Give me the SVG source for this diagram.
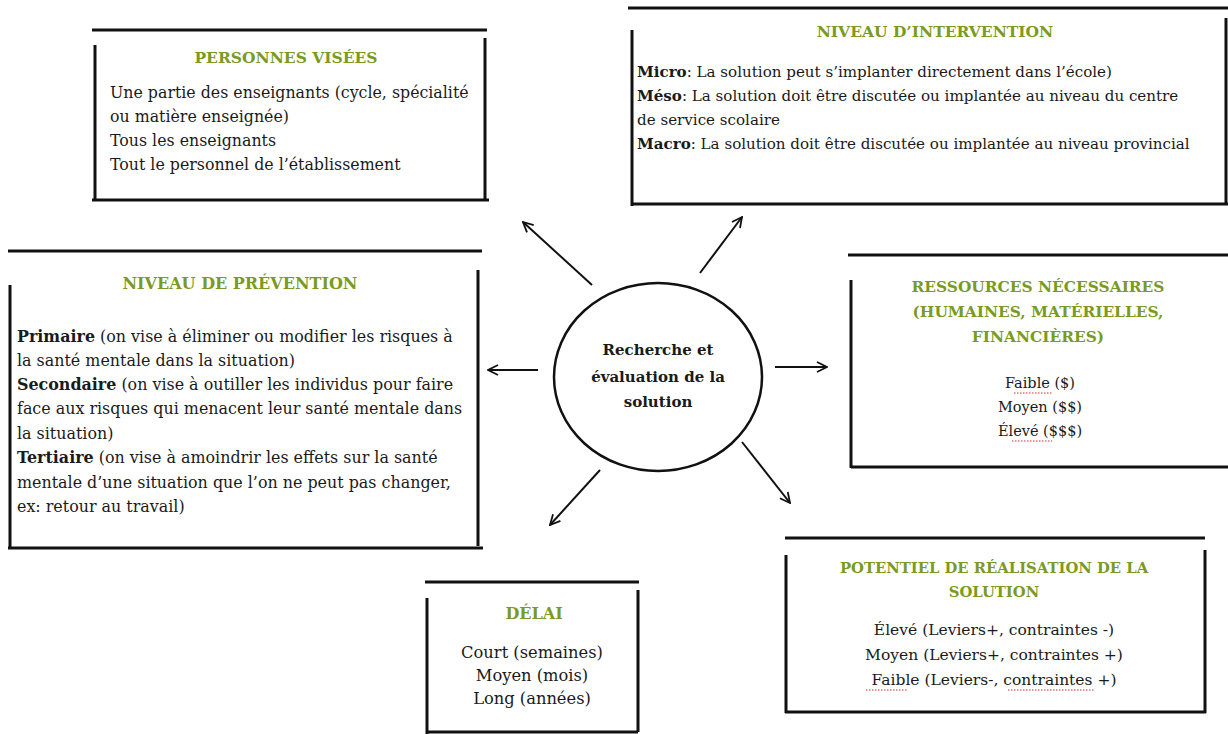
<svg xmlns="http://www.w3.org/2000/svg" width="1228" height="734" viewBox="0 0 1228 734">
<style>
.bl{stroke:#111;stroke-width:3;fill:none;stroke-linecap:butt}
.t{font-family:"DejaVu Serif","Liberation Serif",serif;fill:#1a1a1a}
.h{font-family:"DejaVu Serif","Liberation Serif",serif;fill:#7a9a22;font-weight:bold;text-anchor:middle}
.c{text-anchor:middle}
.b{font-weight:bold}
.arr{stroke:#111;stroke-width:2;fill:none}
.sq{stroke:#d03030;stroke-width:1.2;fill:none;stroke-dasharray:1.5 1.5}
</style>
<defs>
<marker id="ah" viewBox="0 0 12 12" refX="11" refY="6" markerWidth="12" markerHeight="12" markerUnits="userSpaceOnUse" orient="auto">
<path d="M1,1 L11,6 L1,11" stroke="#111" stroke-width="1.8" fill="none"/>
</marker>
</defs>
<rect width="1228" height="734" fill="#fff"/>

<g id="personnes">
<path class="bl" d="M92,30 H487 M95,45 V201 M485,38 V201 M92,200 H489"/>
<text class="h" x="286" y="63" font-size="15.5">PERSONNES VISÉES</text>
<g class="t" font-size="15.8">
<text x="110" y="98">Une partie des enseignants (cycle, spécialité</text>
<text x="110" y="122">ou matière enseignée)</text>
<text x="110" y="146">Tous les enseignants</text>
<text x="110" y="170">Tout le personnel de l’établissement</text>
</g>
</g>

<g id="intervention">
<path class="bl" d="M628,8 H1228 M632,30 V206 M632,204 H1228 M1226,18 V204"/>
<text class="h" x="935" y="37" font-size="15.5">NIVEAU D’INTERVENTION</text>
<g class="t" font-size="15.1">
<text x="637" y="77"><tspan class="b">Micro</tspan>: La solution peut s’implanter directement dans l’école)</text>
<text x="637" y="101"><tspan class="b">Méso</tspan>: La solution doit être discutée ou implantée au niveau du centre</text>
<text x="637" y="125">de service scolaire</text>
<text x="637" y="149"><tspan class="b">Macro</tspan>: La solution doit être discutée ou implantée au niveau provincial</text>
</g>
</g>

<g id="prevention">
<path class="bl" d="M8,251 H482 M10,285 V549 M478,270 V546 M8,548 H483"/>
<text class="h" x="240" y="289" font-size="16">NIVEAU DE PRÉVENTION</text>
<g class="t" font-size="15.9">
<text x="17" y="342"><tspan class="b">Primaire</tspan> (on vise à éliminer ou modifier les risques à</text>
<text x="17" y="366">la santé mentale dans la situation)</text>
<text x="17" y="390"><tspan class="b">Secondaire</tspan> (on vise à outiller les individus pour faire</text>
<text x="17" y="414">face aux risques qui menacent leur santé mentale dans</text>
<text x="17" y="439">la situation)</text>
<text x="17" y="463"><tspan class="b">Tertiaire</tspan> (on vise à amoindrir les effets sur la santé</text>
<text x="17" y="488">mentale d’une situation que l’on ne peut pas changer,</text>
<text x="17" y="512">ex: retour au travail)</text>
</g>
</g>

<g id="ressources">
<path class="bl" d="M848,255 H1228 M851,280 V468 M851,467 H1228"/>
<text class="h" font-size="15.4"><tspan x="1038" y="292">RESSOURCES NÉCESSAIRES</tspan><tspan x="1038" y="317">(HUMAINES, MATÉRIELLES,</tspan><tspan x="1038" y="342">FINANCIÈRES)</tspan></text>
<g class="t c" font-size="14.5">
<text x="1040" y="388">Faible ($)</text>
<text x="1040" y="412">Moyen ($$)</text>
<text x="1040" y="436">Élevé ($$$)</text>
</g>
<path class="sq" d="M1014,393 H1053 M1012,441 H1052"/>
</g>

<g id="potentiel">
<path class="bl" d="M785,538 H1205 M786,555 V713 M1205,550 V713 M785,712 H1206"/>
<text class="h" font-size="14.8"><tspan x="994" y="573">POTENTIEL DE RÉALISATION DE LA</tspan><tspan x="994" y="597">SOLUTION</tspan></text>
<g class="t c" font-size="15.5">
<text x="994" y="635">Élevé (Leviers+, contraintes -)</text>
<text x="994" y="660">Moyen (Leviers+, contraintes +)</text>
<text x="994" y="685">Faible (Leviers-, contraintes +)</text>
</g>
<path class="sq" d="M866,690 H908 M1008,690 H1094"/>
</g>

<g id="delai">
<path class="bl" d="M425,582 H639 M427,598 V734 M638,590 V732 M427,732 H638"/>
<text class="h" x="534" y="619" font-size="16">DÉLAI</text>
<g class="t c" font-size="16.3">
<text x="532" y="658">Court (semaines)</text>
<text x="532" y="681">Moyen (mois)</text>
<text x="532" y="704">Long (années)</text>
</g>
</g>

<g id="centre">
<ellipse cx="658" cy="377" rx="104" ry="94" fill="none" stroke="#111" stroke-width="2.5"/>
<text class="t c b" font-size="15"><tspan x="658" y="355">Recherche et</tspan><tspan x="658" y="382">évaluation de la</tspan><tspan x="658" y="407">solution</tspan></text>
</g>

<g id="connectors">
<line class="arr" x1="592" y1="285" x2="523" y2="222" marker-end="url(#ah)"/>
<line class="arr" x1="700" y1="273" x2="742" y2="217" marker-end="url(#ah)"/>
<line class="arr" x1="538" y1="370" x2="488" y2="370" marker-end="url(#ah)"/>
<line class="arr" x1="775" y1="367" x2="827" y2="367" marker-end="url(#ah)"/>
<line class="arr" x1="600" y1="470" x2="550" y2="525" marker-end="url(#ah)"/>
<line class="arr" x1="742" y1="442" x2="790" y2="503" marker-end="url(#ah)"/>
</g>
</svg>
